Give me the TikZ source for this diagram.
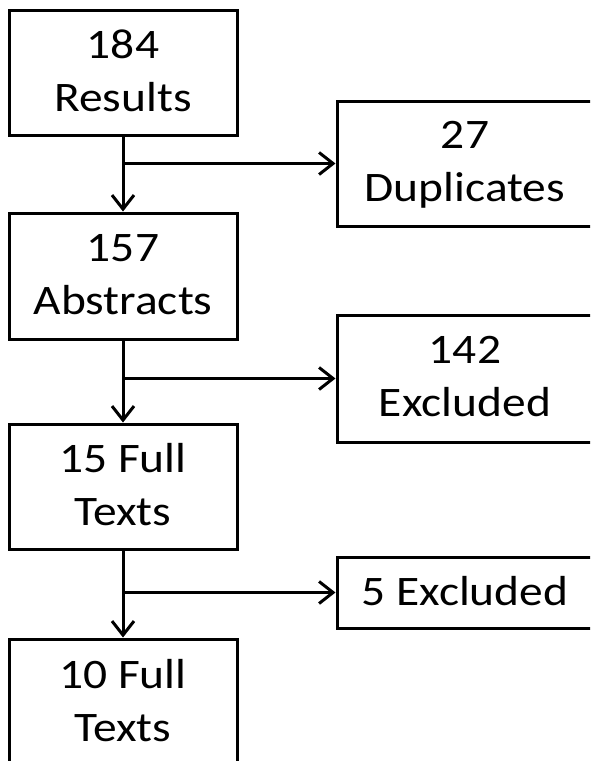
\documentclass[tikz,border=0pt]{standalone}
\usepackage{fontspec}
\newfontfamily\flowfont[FakeStretch=1.13]{Carlito}
\usetikzlibrary{arrows.meta}
\begin{document}
\begin{tikzpicture}[x=1pt,y=-1pt,
  stage/.style={draw,line width=3pt,inner sep=0pt,align=center,
    font=\flowfont\fontsize{42}{53}\selectfont,text depth=4pt,
    execute at begin node=\strut},
  left stage/.style={stage,minimum width=228pt},
  right stage/.style={stage,minimum width=256pt},
  flow/.style={line width=3pt,-{Straight Barb[length=14pt,width=22pt,line width=3pt]}}]
\useasboundingbox (0,0) rectangle (590,761);
\clip (0,0) rectangle (590,761);
% main column
\node[left stage,minimum height=125pt] (res) at (123,72.5) {184\\Results};
\node[left stage,minimum height=126pt] (abs) at (123,276) {157\\Abstracts};
\node[left stage,minimum height=125pt] (full) at (123,486.5) {15 Full\\Texts};
\node[left stage,minimum height=126pt] (final) at (123,702) {10 Full\\Texts};
% removed records
\node[right stage,minimum height=125pt] (dup) at (465,163.5) {27\\Duplicates};
\node[right stage,minimum height=127pt] (exabs) at (465,378.5) {142\\Excluded};
\node[right stage,minimum height=71pt,text depth=12pt] (exfull) at (465,592.5) {5 Excluded};
% connectors
\draw[flow] (res) -- (abs);
\draw[flow] (abs) -- (full);
\draw[flow] (full) -- (final);
\draw[flow] (res.south |- dup.west) -- (dup);
\draw[flow] (abs.south |- exabs.west) -- (exabs);
\draw[flow] (full.south |- exfull.west) -- (exfull);
\end{tikzpicture}
\end{document}
